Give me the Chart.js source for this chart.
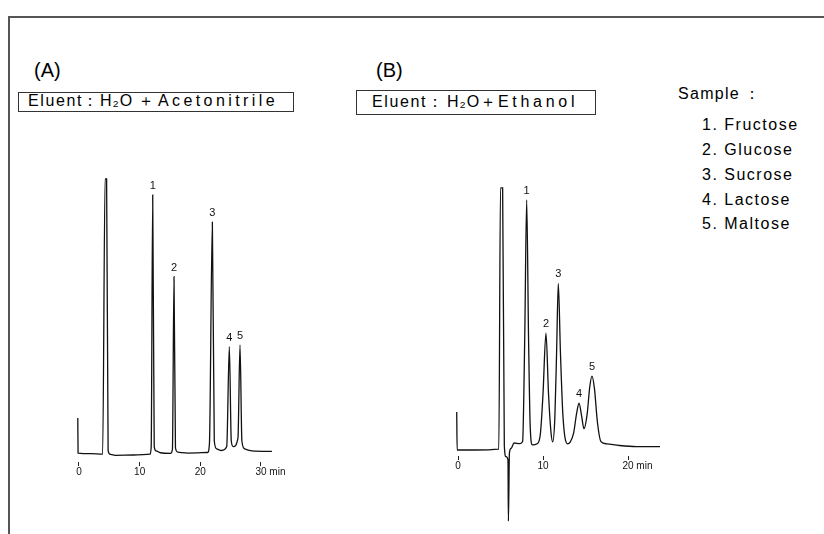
<!DOCTYPE html>
<html>
<head>
<meta charset="utf-8">
<script src="https://cdn.jsdelivr.net/npm/chart.js@4.4.1/dist/chart.umd.min.js"></script>
<style>
  body { margin: 0; background: #fff; }
  #page { position: relative; width: 824px; height: 534px; overflow: hidden; font-family: "Liberation Sans", Arial, sans-serif; color: #000; }
  #page canvas { position: absolute; left: 0; top: 0; }
  .frame { position: absolute; left: 8px; top: 16px; right: -4px; bottom: -4px; border-top: 2px solid #555; border-left: 2px solid #555; }
  .tag { position: absolute; font-size: 20px; line-height: 20px; }
  .box { position: absolute; border: 1px solid #333; box-sizing: border-box; }
  .t { position: absolute; font-size: 16px; line-height: 20px; white-space: nowrap; }
</style>
</head>
<body>
<div id="page">
  <div class="frame"></div>
  <div class="tag" style="left:34px;top:60px">(A)</div>
  <div class="box" style="left:18px;top:92px;width:276px;height:20px"></div>
  <span class="t" style="left:28px;top:90.5px;letter-spacing:1.6px">Eluent</span>
  <span class="t" style="left:82px;top:90.5px">：</span>
  <span class="t" style="left:100px;top:90.5px;letter-spacing:1px">H₂O</span>
  <span class="t" style="left:138px;top:90.5px">＋</span>
  <span class="t" style="left:158px;top:90.5px;letter-spacing:3.4px">Acetonitrile</span>

  <div class="tag" style="left:376px;top:60px">(B)</div>
  <div class="box" style="left:356px;top:90px;width:240px;height:25px"></div>
  <span class="t" style="left:372px;top:91.5px;letter-spacing:1.6px">Eluent</span>
  <span class="t" style="left:427px;top:91.5px">：</span>
  <span class="t" style="left:447px;top:91.5px;letter-spacing:1px">H₂O</span>
  <span class="t" style="left:479.5px;top:91.5px">＋</span>
  <span class="t" style="left:498px;top:91.5px;letter-spacing:3.7px">Ethanol</span>

  <span class="t" style="left:678px;top:84px;letter-spacing:1.3px">Sample</span>
  <span class="t" style="left:744px;top:84px">：</span>
  <div id="sampleList"></div>

  <canvas id="chromA" width="824" height="534"></canvas>
  <canvas id="chromB" width="824" height="534"></canvas>
</div>
<script>
// sugars in the standard mix, numbered as on the peaks
const sampleNames = ['Fructose', 'Glucose', 'Sucrose', 'Lactose', 'Maltose'];
const peakLabels = ['1', '2', '3', '4', '5'];

// (A) water + acetonitrile: retention time (min) / detector signal
const timesA  = [-0.2, -0.15, 2.0, 3.9, 4.3, 4.55, 4.8, 5.2, 6.0, 9.0, 11.7, 11.9, 12.15, 12.4, 12.7, 13.4,
                 15.1, 15.4, 15.66, 15.9, 16.3, 18.0, 21.2, 21.5, 21.98, 22.3, 22.7, 23.5, 24.35, 24.78,
                 25.1, 25.43, 26.2, 26.54, 26.85, 27.3, 28.5, 31.8];
const signalA = [13.2, 0.7, 0.5, 0.3, 98.6, 98.6, 1.5, 0.2, -0.1, 0.0, 0.3, 3, 92.9, 3, 1.5, 0.8,
                 0.6, 2, 63.7, 2.5, 1.0, 0.7, 0.9, 4, 83.2, 5, 2.2, 1.6, 3, 38.7,
                 5, 3.0, 6, 39.3, 5, 2.2, 1.5, 1.3];
const peakIdxA = [12, 18, 24, 29, 33];
const ticksA = [0, 10, 20, 30];

// (B) water + ethanol
const timesB  = [-0.15, -0.1, 2.0, 4.8, 5.0, 5.25, 5.45, 5.65, 5.88, 5.93, 6.05, 6.25, 6.6, 7.3, 7.6, 7.85,
                 8.08, 8.3, 8.5, 8.76, 9.3, 9.7, 10.0, 10.35, 10.65, 10.95, 11.14, 11.4, 11.6, 11.8, 12.05,
                 12.35, 12.88, 13.2, 13.6, 13.95, 14.24, 14.55, 14.82, 15.2, 15.5, 15.76, 16.05, 16.4, 16.82,
                 17.5, 19.0, 21.0, 23.76];
const signalB = [13.6, 0.0, 0.0, 0.3, 93.6, 93.6, 1.5, -2.4, -3.5, -25.4, -1.0, 0.6, 2.5, 2.3, 3.0, 40,
                 89.3, 40, 8, 1.8, 2.2, 6, 20, 41.7, 20, 6, 2.9, 12, 35, 59.5, 35,
                 12, 2.2, 2.8, 6, 13, 16.7, 12, 7.6, 13, 22.5, 26.4, 22, 10, 3.0,
                 2.2, 1.6, 1.2, 1.2];
const peakIdxB = [16, 23, 29, 36, 41];
const ticksB = [0, 10, 20];

// sample key, one row per peak number
const listTops = [115.2, 140.2, 165, 189.5, 213.5];
const list = document.getElementById('sampleList');
sampleNames.forEach((name, i) => {
  const row = document.createElement('span');
  row.className = 't';
  row.style.left = '702px';
  row.style.top = listTops[i] + 'px';
  row.style.letterSpacing = '1.5px';
  row.textContent = peakLabels[i] + '. ' + name;
  list.appendChild(row);
});

const FONT = '"Liberation Sans", Arial, sans-serif';

// numbers above each sugar peak
const peakNumbers = {
  id: 'peakNumbers',
  afterDatasetsDraw(chart, args, opts) {
    const meta = chart.getDatasetMeta(0);
    const ctx = chart.ctx;
    ctx.save();
    ctx.fillStyle = '#111';
    ctx.font = '11px ' + FONT;
    ctx.textAlign = 'center';
    ctx.textBaseline = 'middle';
    opts.indices.forEach((idx, i) => {
      const pt = meta.data[idx];
      ctx.fillText(peakLabels[i], pt.x, pt.y - 9);
    });
    ctx.restore();
  }
};

// "min" written after the last tick label
const unitLabel = {
  id: 'unitLabel',
  afterDraw(chart) {
    const scale = chart.scales.x;
    const items = scale.getLabelItems();
    const last = items[items.length - 1];
    const ctx = chart.ctx;
    ctx.save();
    ctx.font = '10px ' + FONT;
    ctx.fillStyle = '#111';
    ctx.textAlign = 'left';
    ctx.textBaseline = last.options.textBaseline;
    const w = ctx.measureText(last.label).width;
    ctx.fillText(' min', last.options.translation[0] + w / 2, last.options.translation[1] + last.textOffset);
    ctx.restore();
  }
};

function drawChrom(id, times, signal, peakIdx, ticks, area) {
  new Chart(document.getElementById(id), {
    type: 'line',
    data: {
      datasets: [{
        data: times.map((t, i) => ({ x: t, y: signal[i] })),
        borderColor: '#111',
        borderWidth: 1.3,
        pointRadius: 0,
        cubicInterpolationMode: 'monotone',
        clip: false
      }]
    },
    options: {
      responsive: false,
      animation: false,
      events: [],
      layout: {
        padding: { left: area.left, right: 824 - area.right, top: area.top, bottom: 534 - area.bottom - 24 }
      },
      scales: {
        x: {
          type: 'linear',
          min: area.xMin,
          max: area.xMax,
          afterBuildTicks: (scale) => { scale.ticks = ticks.map(v => ({ value: v })); },
          afterFit: (scale) => { scale.height = 24; },
          grid: { drawOnChartArea: false, drawTicks: true, tickLength: 4, color: '#222', lineWidth: 1 },
          border: { display: false },
          ticks: { color: '#111', padding: 0, maxRotation: 0, font: { family: FONT, size: 10 } }
        },
        y: { display: false, min: area.yMin, max: area.yMax }
      },
      plugins: {
        legend: { display: false },
        tooltip: { enabled: false },
        peakNumbers: { indices: peakIdx }
      }
    },
    plugins: [peakNumbers, unitLabel]
  });
}

drawChrom('chromA', timesA, signalA, peakIdxA, ticksA,
  { left: 72.93, right: 279.2, top: 175, bottom: 462, xMin: -1, xMax: 33, yMin: -2.5, yMax: 100 });
drawChrom('chromB', timesB, signalB, peakIdxB, ticksB,
  { left: 449.5, right: 670.5, top: 170, bottom: 456, xMin: -1, xMax: 25, yMin: -2.143, yMax: 100 });
</script>
</body>
</html>
